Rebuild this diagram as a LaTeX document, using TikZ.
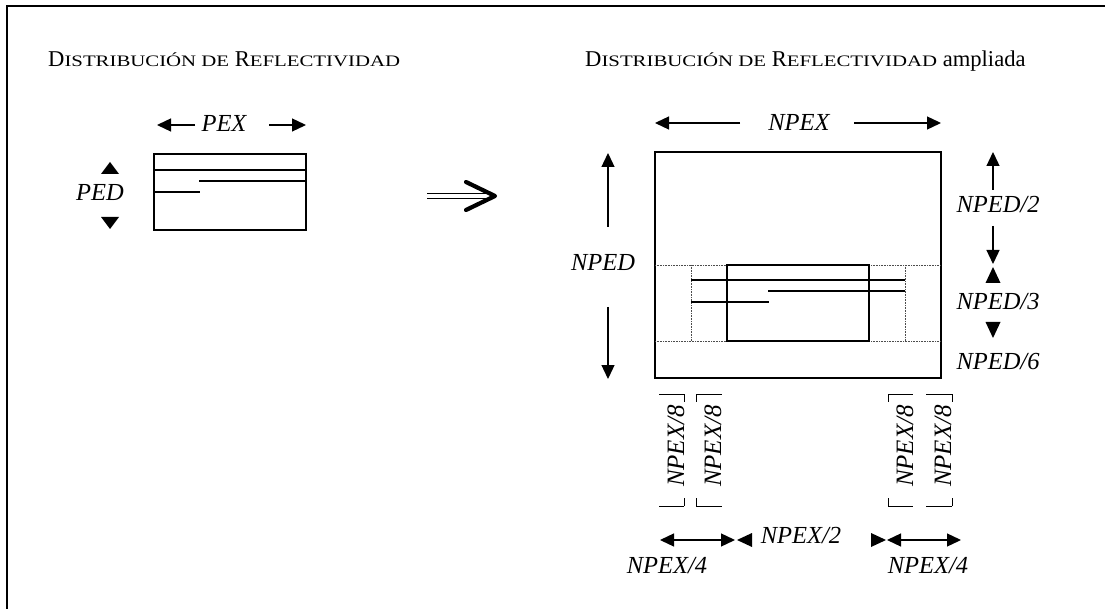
\documentclass[tikz,border=0pt]{standalone}
\usepackage{fontspec}
\setmainfont{Liberation Serif}
\newfontfamily\scfont[FakeStretch=1.3]{Liberation Serif}
\usetikzlibrary{arrows.meta}
\newcommand{\scx}[1]{{\scfont\fontsize{16}{16}\selectfont #1}}
\begin{document}
\begin{tikzpicture}[x=1pt,y=-1pt,
  lab/.style={font=\fontsize{24.5}{24}\selectfont\itshape, inner sep=0pt, anchor=base},
  vlab/.style={font=\fontsize{25}{24}\selectfont\itshape, inner sep=0pt, anchor=base, rotate=90},
  ttl/.style={font=\fontsize{22.6}{24}\selectfont, inner sep=0pt, anchor=base west},
  boxline/.style={line width=1.5pt},
  thinline/.style={line width=1.3pt},
  dotline/.style={densely dotted, line width=0.6pt, black!70},
  dimarrow/.style={line width=1.3pt, -{Triangle[length=14pt,width=13pt]}},
  ddarrow/.style={line width=1.3pt, {Triangle[length=14pt,width=13pt]}-{Triangle[length=14pt,width=13pt]}},
  tri/.style={fill=black},
  brk/.style={line width=0.8pt}
]
\useasboundingbox (0,0) rectangle (1105,609);
% frame (right and bottom sides lie outside the picture)
\draw[line width=1.8pt] (7,615) -- (7,6) -- (1112,6);

% titles
\node[ttl] (t1) at (48,67) {D\scx{ISTRIBUCIÓN DE} R\scx{EFLECTIVIDAD}};
\node[ttl] (t2) at (585,67) {D\scx{ISTRIBUCIÓN DE} R\scx{EFLECTIVIDAD} ampliada};

% ---- small distribution ----
\coordinate (sA) at (154,154);
\coordinate (sB) at (306,230);
\draw[boxline] (sA) rectangle (sB);
\draw[boxline] (154,170) -- (306,170);
\draw[boxline] (199,181) -- (306,181);
\draw[boxline] (154,192) -- (200,192);

\node[lab] (pex) at (224,132) {PEX};
\coordinate (pexL) at (157,125);
\coordinate (pexR) at (306,125);
\draw[dimarrow] (195,125) -- (pexL);
\draw[dimarrow] (269,125) -- (pexR);

\node[lab] (ped) at (100,201) {PED};
\fill[tri] (110,162) -- (119,174) -- (101,174) -- cycle;
\fill[tri] (110,229) -- (119,217) -- (101,217) -- cycle;

% ---- big implication arrow ----
\draw[line width=1.1pt] (427,193.3) -- (489,193.3);
\draw[line width=1.1pt] (427,198.7) -- (489,198.7);
\draw[line width=4.2pt, line cap=round, line join=round] (466,182) -- (495,196) -- (466,210);

% ---- enlarged distribution ----
\coordinate (bA) at (655,152);
\coordinate (bB) at (941,378);
\draw[boxline] (bA) rectangle (bB);
% dotted guides
\draw[dotline] (655,265) -- (941,265);
\draw[dotline] (655,341) -- (941,341);
\draw[dotline] (691,265) -- (691,341);
\draw[dotline] (905,265) -- (905,341);
% inner box
\draw[boxline] (727,265) rectangle (869,341);
\draw[thinline] (691,280) -- (905,280);
\draw[thinline] (768,291) -- (905,291);
\draw[thinline] (691,302) -- (769,302);

% NPEX
\node[lab] (npex) at (799,131) {NPEX};
\draw[dimarrow] (740,123) -- (655,123);
\draw[dimarrow] (854,123) -- (941,123);

% NPED
\node[lab] (nped) at (603,271) {NPED};
\draw[dimarrow] (608,227) -- (608,153);
\draw[dimarrow] (608,307) -- (608,379);

% right side
\node[lab] (nped2) at (998,213) {NPED/2};
\node[lab] (nped3) at (998,310) {NPED/3};
\node[lab] (nped6) at (998,370) {NPED/6};
\draw[dimarrow] (993,190) -- (993,152);
\draw[dimarrow] (993,226) -- (993,264);
\fill[tri] (993,267) -- (1000.5,283) -- (985.5,283) -- cycle;
\fill[tri] (993,338) -- (1000.5,322) -- (985.5,322) -- cycle;

% NPEX/8 columns
\foreach \xa/\xb/\tk in {659/684/684, 696/722/696, 888/913/888, 926/952/952}{
  \draw[brk] (\xa,394) -- (\xb,394) (\tk,394) -- (\tk,402);
  \draw[brk] (\xa,506) -- (\xb,506) (\tk,506) -- (\tk,498);
}
\node[vlab] (c1) at (684,446) {NPEX/8};
\node[vlab] (c2) at (721,446) {NPEX/8};
\node[vlab] (c3) at (913,446) {NPEX/8};
\node[vlab] (c4) at (951,446) {NPEX/8};

% bottom dimensions
\draw[ddarrow] (660,540) -- (735,540);
\fill[tri] (737,540) -- (752,533) -- (752,547) -- cycle;
\node[lab] (npex2) at (801,543) {NPEX/2};
\fill[tri] (886,540) -- (871,533) -- (871,547) -- cycle;
\draw[ddarrow] (887,540) -- (961,540);
\node[lab] (npex4a) at (667,573) {NPEX/4};
\node[lab] (npex4b) at (928,573) {NPEX/4};
\end{tikzpicture}
\end{document}
